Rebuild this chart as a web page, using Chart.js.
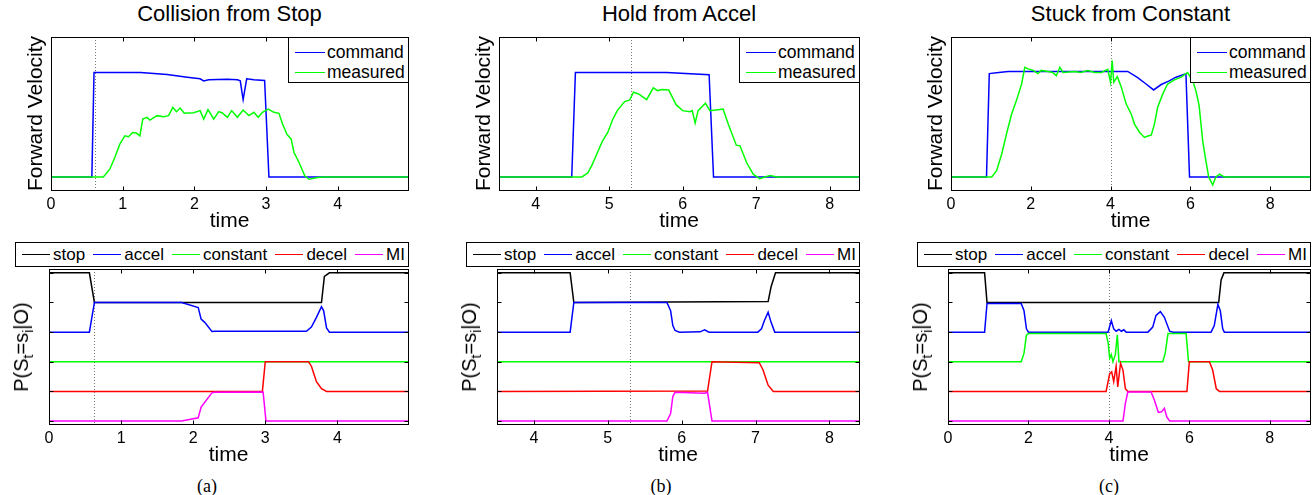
<!DOCTYPE html>
<html>
<head>
<meta charset="utf-8">
<script src="https://cdn.jsdelivr.net/npm/chart.js@4.4.0/dist/chart.umd.min.js"></script>
<style>
body { margin: 0; background: #fff; width: 1315px; height: 495px; position: relative; overflow: hidden;
       font-family: 'Liberation Sans', Arial, Helvetica, sans-serif; color: #000; }
canvas { position: absolute; }
.ttl { position: absolute; transform: translate(-50%, -50%); font-size: 22px; line-height: 1; white-space: nowrap; }
.cap { position: absolute; transform: translate(-50%, -50%); font-family: 'Liberation Serif', 'Times New Roman', serif;
       font-size: 18px; line-height: 1; white-space: nowrap; }
.plab { position: absolute; transform: translate(-50%, -50%) rotate(-90deg); font-size: 20px; line-height: 1; white-space: nowrap; }
.plab sub { font-size: 0.7em; line-height: 0; vertical-align: -0.35em; }
.lgTop { position: absolute; box-sizing: border-box; border: 1px solid #000; background: #fff; padding-top: 4px; }
.lgTop .row { height: 20px; display: flex; align-items: center; font-size: 17.5px; padding-left: 6px; }
.ln { display: inline-block; width: 30px; height: 0; border-top: 1.5px solid; margin-right: 2px; }
.lgBot { position: absolute; box-sizing: border-box; border: 1px solid #000; background: #fff; height: 25px;
         display: flex; align-items: center; justify-content: space-between; padding: 0 3px 0 6px; font-size: 17px; }
.lgBot .it { display: flex; align-items: center; }
.lgBot .ln { width: 28px; margin-right: 3px; }
</style>
</head>
<body>
<script>
// ---- data: [time, value] ----
const commandA = [[0,0],[0.57,0],[0.6,1.0],[1.0,1.0],[1.25,1.0],[1.62,0.98],[1.9,0.955],[2.08,0.94],[2.13,0.92],[2.2,0.93],
  [2.46,0.936],[2.6,0.93],[2.64,0.92],[2.68,0.74],[2.73,0.94],[2.83,0.93],[2.98,0.923],[3.04,0],[4.98,0]];
const measuredA = [[0,0],[0.73,0],[0.82,0.074],[0.89,0.186],[0.96,0.314],[1.03,0.394],[1.08,0.385],[1.14,0.426],[1.19,0.42],
  [1.24,0.394],[1.28,0.554],[1.34,0.57],[1.38,0.545],[1.48,0.587],[1.57,0.577],[1.64,0.587],[1.70,0.667],[1.75,0.625],
  [1.80,0.66],[1.86,0.609],[1.99,0.615],[2.08,0.635],[2.13,0.554],[2.19,0.644],[2.27,0.554],[2.34,0.625],[2.39,0.612],
  [2.46,0.571],[2.52,0.635],[2.60,0.571],[2.68,0.641],[2.76,0.587],[2.83,0.619],[2.89,0.571],[2.95,0.619],[3.03,0.65],
  [3.11,0.619],[3.18,0.609],[3.23,0.506],[3.29,0.41],[3.35,0.362],[3.39,0.234],[3.46,0.138],[3.54,0.01],[3.60,-0.022],
  [3.72,-0.006],[3.81,0],[4.98,0]];

const commandB = [[3.5,0],[4.49,0],[4.54,1.0],[5.0,1.0],[5.78,1.0],[6.36,0.978],[6.42,0],[8.4,0]];
const measuredB = [[3.5,0],[4.63,0],[4.71,0.04],[4.77,0.12],[4.84,0.234],[4.91,0.346],[4.98,0.426],[5.05,0.554],[5.11,0.635],
  [5.21,0.721],[5.28,0.737],[5.33,0.811],[5.40,0.795],[5.51,0.74],[5.60,0.853],[5.66,0.827],[5.72,0.837],[5.81,0.833],
  [5.91,0.692],[6.00,0.635],[6.10,0.625],[6.13,0.635],[6.17,0.516],[6.21,0.635],[6.31,0.705],[6.37,0.635],[6.48,0.644],
  [6.55,0.65],[6.62,0.506],[6.73,0.304],[6.78,0.298],[6.87,0.138],[6.96,0.026],[7.05,-0.016],[7.12,0],[7.19,0.013],
  [7.28,0],[8.4,0]];

const commandC = [[0,0],[0.89,0],[0.96,0.99],[1.2,1.0],[1.43,1.01],[4.43,1.01],[4.68,0.95],[4.89,0.89],[5.08,0.833],
  [5.27,0.885],[5.47,0.92],[5.64,0.955],[5.89,0.987],[5.98,0],[9,0]];
const measuredC = [[0,0],[1.02,0],[1.14,0.058],[1.27,0.218],[1.39,0.41],[1.52,0.603],[1.64,0.731],[1.77,0.89],[1.85,1.05],
  [1.93,1.035],[2.06,1.02],[2.18,0.99],[2.26,1.02],[2.43,1.01],[2.55,1.0],[2.64,0.97],[2.73,1.05],[2.81,1.0],[3.1,1.01],
  [3.25,1.0],[3.43,1.02],[3.6,1.0],[3.77,1.0],[3.93,1.03],[4.0,0.907],[4.04,1.115],[4.08,0.907],[4.17,0.96],[4.27,0.86],
  [4.39,0.7],[4.52,0.6],[4.6,0.506],[4.73,0.426],[4.85,0.378],[4.95,0.394],[5.02,0.40],[5.1,0.506],[5.18,0.667],
  [5.31,0.795],[5.43,0.89],[5.6,0.93],[5.77,0.955],[5.93,1.0],[6.06,0.92],[6.14,0.827],[6.22,0.683],[6.31,0.346],
  [6.39,0.154],[6.46,0],[6.56,-0.077],[6.64,0],[6.73,0.026],[6.85,0],[9,0]];

// state probabilities P(S_t = s_i | O), each in 0..1
const stopA = [[0,1],[0.56,1],[0.63,0],[3.78,0],[3.82,0.88],[3.89,1],[4.98,1]];
const accelA = [[0,0],[0.56,0],[0.63,1],[1.84,1],[2.07,0.83],[2.11,0.44],[2.16,0.33],[2.26,0.02],[2.3,0.03],[3.57,0.03],
  [3.64,0.17],[3.71,0.5],[3.78,0.86],[3.81,0.72],[3.85,0.14],[3.89,0],[4.98,0]];
const constantA = [[0,0],[4.98,0]];
const decelA = [[0,0],[2.96,0],[3.0,1],[3.6,1],[3.64,0.85],[3.71,0.33],[3.78,0.09],[3.85,0],[4.98,0]];
const miA = [[0,0],[1.84,0],[2.07,0.11],[2.11,0.47],[2.26,0.95],[2.3,0.97],[2.97,0.98],[3.01,0],[4.98,0]];

const stopB = [[3.5,1],[4.49,1],[4.54,0],[7.17,0.03],[7.21,0.53],[7.27,1],[8.4,1]];
const accelB = [[3.5,0],[4.49,0],[4.54,1],[5.80,1],[5.85,0.72],[5.88,0.22],[5.91,0.06],[5.97,0],[6.25,0.01],[6.31,0.08],
  [6.37,0],[7.03,0],[7.08,0.11],[7.12,0.39],[7.17,0.67],[7.21,0.33],[7.26,0],[8.4,0]];
const constantB = [[3.5,0],[8.4,0]];
const decelB = [[3.5,0],[6.35,0.01],[6.41,1],[7.05,0.97],[7.10,0.73],[7.17,0.21],[7.24,0],[8.4,0]];
const miB = [[3.5,0],[5.80,0],[5.85,0.25],[5.88,0.83],[5.91,0.97],[6.31,0.94],[6.35,0.97],[6.41,0],[8.4,0]];

const stopC = [[0,1],[0.91,1],[0.97,0],[6.73,0],[6.79,0.76],[6.86,1],[9,1]];
const accelC = [[0,0],[0.91,0],[0.97,0.97],[1.82,0.97],[1.89,0.72],[1.95,0.11],[2.0,0],[3.98,0],[4.06,0.39],[4.12,0.11],
  [4.18,0.03],[4.25,0.09],[4.31,0.03],[4.37,0.08],[4.43,0],[4.97,0],[5.09,0.17],[5.17,0.56],[5.28,0.69],[5.38,0.5],
  [5.51,0.03],[5.6,0],[6.54,0],[6.62,0.22],[6.71,0.94],[6.77,0.72],[6.83,0.11],[6.87,0],[9,0]];
const constantC = [[0,0],[1.82,0],[1.89,0.29],[1.95,0.9],[2.0,0.95],[3.93,0.95],[3.98,0.65],[4.02,0.12],[4.06,0.24],[4.1,0],
  [4.16,0.24],[4.21,0.91],[4.25,0],[5.34,0],[5.40,0.29],[5.47,0.95],[5.92,0.95],[5.98,0],[9,0]];
const decelC = [[0,0],[3.93,0],[4.02,0.6],[4.07,0.66],[4.12,0.33],[4.18,0.85],[4.22,0.15],[4.29,0.95],[4.35,0.72],
  [4.41,0.09],[4.47,0],[5.94,0],[6.0,1],[6.5,1],[6.58,0.72],[6.67,0.09],[6.75,0],[9,0]];
const miC = [[0,0],[4.35,0],[4.41,0.6],[4.47,0.98],[5.05,0.98],[5.13,0.71],[5.23,0.29],[5.31,0.31],[5.38,0.43],
  [5.44,0.14],[5.51,0],[9,0]];

const ticksA = [0, 1, 2, 3, 4];
const ticksB = [4, 5, 6, 7, 8];
const ticksC = [0, 2, 4, 6, 8];
const eventA = 0.62, eventB = 5.3, eventC = 4.0;

const seriesNames = ['command', 'measured'];
const stateNames = ['stop', 'accel', 'constant', 'decel', 'MI'];
const stateOffsets = [4, 3, 2, 1, 0];   // each state drawn in its own band
const stateTicks = [0, 1, 2, 3, 4, 5];

// ---- styling / layout ----
const FONT = "'Liberation Sans', Arial, Helvetica, sans-serif";
const seriesColors = ['#0000ff', '#00ff00'];
const stateColors = ['#000000', '#0000ff', '#00ff00', '#ff0000', '#ff00ff'];
const YW = 40, PT = 3, PR = 3, XH = 48;

Chart.defaults.font.family = FONT;
Chart.defaults.color = '#000';

const panels = [
  { title: 'Collision from Stop', xMin: 0, xMax: 4.98, ticks: ticksA, event: eventA,
    command: commandA, measured: measuredA, states: [stopA, accelA, constantA, decelA, miA],
    top: { l: 51, t: 37, r: 408, b: 190 }, bot: { l: 49, t: 269, r: 408, b: 424 },
    legendLeft: 15, caption: '(a)', capX: 207 },
  { title: 'Hold from Accel', xMin: 3.5, xMax: 8.4, ticks: ticksB, event: eventB,
    command: commandB, measured: measuredB, states: [stopB, accelB, constantB, decelB, miB],
    top: { l: 499, t: 37, r: 859, b: 190 }, bot: { l: 497, t: 269, r: 859, b: 424 },
    legendLeft: 466, caption: '(b)', capX: 661 },
  { title: 'Stuck from Constant', xMin: 0, xMax: 9, ticks: ticksC, event: eventC,
    command: commandC, measured: measuredC, states: [stopC, accelC, constantC, decelC, miC],
    top: { l: 951, t: 37, r: 1310, b: 190 }, bot: { l: 948, t: 269, r: 1310, b: 424 },
    legendLeft: 917, caption: '(c)', capX: 1109 }
];

// box around the axes, inward ticks, dotted event marker
const framePlugin = {
  id: 'frame',
  beforeDatasetsDraw(chart, args, opts) {
    const { ctx, chartArea: a, scales } = chart;
    if (opts.event == null) return;
    const x = Math.round(scales.x.getPixelForValue(opts.event)) + 0.5;
    ctx.save();
    ctx.strokeStyle = '#777';
    ctx.lineWidth = 1;
    ctx.setLineDash([1, 2]);
    ctx.beginPath();
    ctx.moveTo(x, a.top);
    ctx.lineTo(x, a.bottom);
    ctx.stroke();
    ctx.restore();
  },
  afterDraw(chart, args, opts) {
    const { ctx, chartArea: a, scales } = chart;
    const L = Math.round(a.left) + 0.5, R = Math.round(a.right) + 0.5;
    const T = Math.round(a.top) + 0.5, B = Math.round(a.bottom) + 0.5;
    ctx.save();
    ctx.strokeStyle = '#000';
    ctx.lineWidth = 1;
    ctx.beginPath();
    scales.x.ticks.forEach(t => {
      const x = Math.round(scales.x.getPixelForValue(t.value)) + 0.5;
      ctx.moveTo(x, B); ctx.lineTo(x, B - 4);
      ctx.moveTo(x, T); ctx.lineTo(x, T + 4);
    });
    (opts.yTicks || []).forEach(v => {
      const y = Math.round(scales.y.getPixelForValue(v)) + 0.5;
      ctx.moveTo(L, y); ctx.lineTo(L + 4, y);
      ctx.moveTo(R, y); ctx.lineTo(R - 4, y);
    });
    ctx.stroke();
    ctx.strokeRect(L, T, R - L, B - T);
    ctx.restore();
  }
};

function addCanvas(rect) {
  const c = document.createElement('canvas');
  const w = rect.r - rect.l + YW + PR, h = rect.b - rect.t + PT + XH;
  c.width = w; c.height = h;
  c.style.left = (rect.l - YW) + 'px';
  c.style.top = (rect.t - PT) + 'px';
  c.style.width = w + 'px';
  c.style.height = h + 'px';
  document.body.appendChild(c);
  return c;
}

function xScale(p) {
  return {
    type: 'linear', min: p.xMin, max: p.xMax,
    grid: { display: false, drawTicks: false },
    border: { display: false },
    ticks: { font: { size: 16 }, color: '#000', padding: 5, maxRotation: 0, autoSkip: false, includeBounds: false },
    afterBuildTicks: s => { s.ticks = p.ticks.map(v => ({ value: v })); },
    afterFit: s => { s.height = XH; },
    title: { display: true, text: 'time', font: { size: 21 }, color: '#000', padding: { top: 0, bottom: 4.4 } }
  };
}

function baseOptions() {
  return {
    responsive: false, animation: false, devicePixelRatio: 1,
    layout: { padding: { top: PT, right: PR, left: 0, bottom: 0 } },
    elements: { point: { radius: 0 }, line: { tension: 0, borderWidth: 1.5 } }
  };
}

function toXY(arr, off) {
  return arr.map(([t, v]) => ({ x: t, y: v + (off || 0) }));
}

function div(cls, html, style) {
  const d = document.createElement('div');
  d.className = cls;
  d.innerHTML = html;
  Object.assign(d.style, style);
  document.body.appendChild(d);
  return d;
}

panels.forEach(p => {
  // velocity plot
  new Chart(addCanvas(p.top), {
    type: 'line',
    data: {
      datasets: [
        { label: seriesNames[0], data: toXY(p.command), borderColor: seriesColors[0], order: 1 },
        { label: seriesNames[1], data: toXY(p.measured), borderColor: seriesColors[1], order: 0 }
      ]
    },
    options: Object.assign(baseOptions(), {
      plugins: { legend: { display: false }, tooltip: { enabled: false }, frame: { event: p.event } },
      scales: {
        x: xScale(p),
        y: {
          min: -0.125, max: 1.34,
          ticks: { display: false },
          grid: { display: false, drawTicks: false },
          border: { display: false },
          afterFit: s => { s.width = YW; },
          title: { display: true, text: 'Forward Velocity', font: { size: 21 }, color: '#000',
                   padding: { top: YW - 15 - 12.6, bottom: 0 } }
        }
      }
    }),
    plugins: [framePlugin]
  });

  // state probability plot
  new Chart(addCanvas(p.bot), {
    type: 'line',
    data: {
      datasets: p.states.map((s, i) => ({
        label: stateNames[i], data: toXY(s, stateOffsets[i]), borderColor: stateColors[i], order: 5 - i
      }))
    },
    options: Object.assign(baseOptions(), {
      plugins: { legend: { display: false }, tooltip: { enabled: false },
                 frame: { event: p.event, yTicks: stateTicks } },
      scales: {
        x: xScale(p),
        y: {
          min: -0.1, max: 5.13,
          ticks: { display: false },
          grid: { display: false, drawTicks: false },
          border: { display: false },
          afterFit: s => { s.width = YW; }
        }
      }
    }),
    plugins: [framePlugin]
  });

  // titles, legends, labels
  div('ttl', p.title, { left: ((p.top.l + p.top.r) / 2) + 'px', top: '14px' });

  const lt = div('lgTop', seriesNames.map((n, i) =>
    '<div class="row"><span class="ln" style="border-color:' + seriesColors[i] + '"></span>' + n + '</div>').join(''),
    { left: (p.top.r - 120) + 'px', top: p.top.t + 'px', width: '121px', height: '46px' });

  div('lgBot', stateNames.map((n, i) =>
    '<span class="it"><span class="ln" style="border-color:' + stateColors[i] + '"></span>' + n + '</span>').join(''),
    { left: p.legendLeft + 'px', top: '242px', width: (p.bot.r - p.legendLeft + 1) + 'px' });

  div('plab', 'P(S<sub>t</sub>=s<sub>i</sub>|O)', { left: (p.bot.l - 28) + 'px', top: ((p.bot.t + p.bot.b) / 2) + 'px' });

  div('cap', p.caption, { left: p.capX + 'px', top: '486px' });
});
</script>
</body>
</html>
